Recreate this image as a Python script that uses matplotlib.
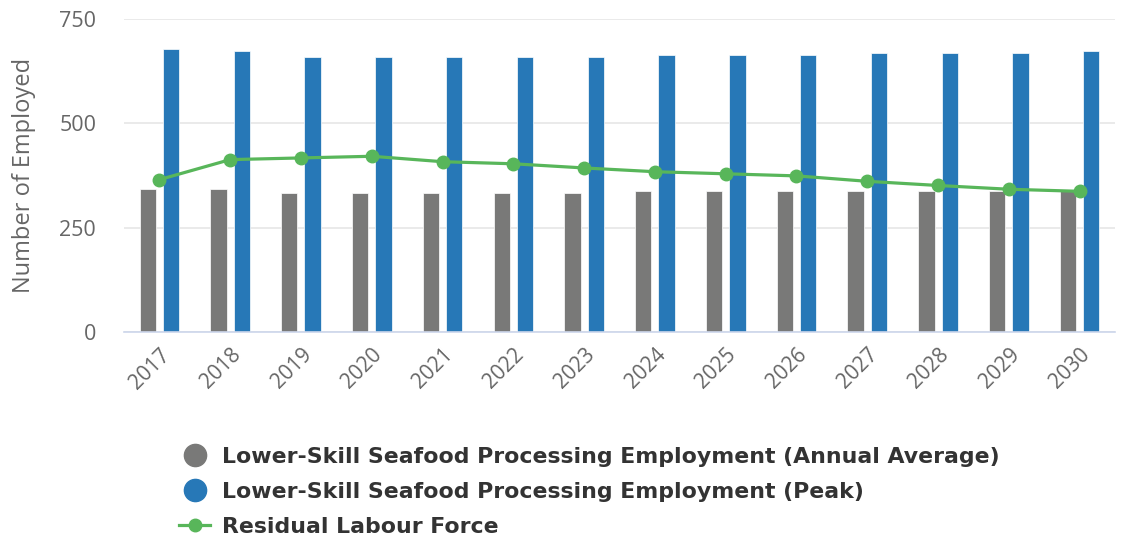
import matplotlib.pyplot as plt
import numpy as np
from matplotlib.lines import Line2D

# ========================================
# Data
# ========================================
years = ['2017', '2018', '2019', '2020', '2021', '2022', '2023',
         '2024', '2025', '2026', '2027', '2028', '2029', '2030']
annual_average = [342, 342, 333, 333, 333, 333, 333,
                  337, 337, 337, 337, 337, 337, 337]
peak = [678, 673, 659, 659, 659, 659, 659,
        664, 664, 664, 668, 668, 668, 673]
residual_labour = [365, 413, 417, 421, 408, 403, 393,
                   384, 379, 374, 361, 351, 342, 337]

GREY = '#797978'
BLUE = '#2778b7'
GREEN = '#58b65a'
TEXT = '#666666'

fig = plt.figure(figsize=(11.22, 5.38), dpi=100)
ax = fig.add_axes([0.1105, 0.383, 0.8833, 0.5817])

x = np.arange(len(years))
bar_w = 0.23
offset = 0.165

ax.bar(x - offset, annual_average, width=bar_w, color=GREY,
       edgecolor='white', linewidth=0.5, zorder=2)
ax.bar(x + offset, peak, width=bar_w, color=BLUE,
       edgecolor='white', linewidth=0.5, zorder=2)
ax.plot(x, residual_labour, color=GREEN, linewidth=2.3, marker='o',
        markersize=9, zorder=3)

# Axes styling
ax.set_xlim(-0.5, len(years) - 0.5)
ax.set_ylim(0, 750)
ax.set_yticks([0, 250, 500, 750])
ax.yaxis.grid(True, color='#e6e6e6', linewidth=1.2, zorder=0)
ax.set_axisbelow(True)
for side in ['top', 'right', 'left']:
    ax.spines[side].set_visible(False)
ax.spines['bottom'].set_color('#ccd6eb')
ax.spines['bottom'].set_linewidth(1.2)
ax.tick_params(axis='both', length=0, colors=TEXT)

ax.set_xticks(x)
ax.set_xticklabels(years, rotation=45, ha='right', rotation_mode='anchor',
                   fontsize=15, family='Open Sans', color=TEXT)
ax.tick_params(axis='x', pad=9)
for lbl in ax.get_yticklabels():
    lbl.set_fontsize(15.5)
    lbl.set_family('Open Sans')
    lbl.set_color(TEXT)
ax.tick_params(axis='y', pad=20)
ax.set_ylabel('Number of Employed', fontsize=17, family='Open Sans',
              color=TEXT, labelpad=16.5)

# Legend below the chart
handles = [
    Line2D([], [], linestyle='none', marker='o', markersize=16,
           color=GREY),
    Line2D([], [], linestyle='none', marker='o', markersize=16,
           color=BLUE),
    Line2D([], [], color=GREEN, linewidth=2.3, marker='o', markersize=9),
]
labels = [
    'Lower-Skill Seafood Processing Employment (Annual Average)',
    'Lower-Skill Seafood Processing Employment (Peak)',
    'Residual Labour Force',
]
fig.legend(handles, labels, loc='upper left', bbox_to_anchor=(0.150, 0.19),
           frameon=False, handlelength=1.4, handletextpad=0.55,
           labelspacing=0.68, borderpad=0,
           prop={'family': 'DejaVu Sans', 'weight': 'bold', 'size': 15.8},
           labelcolor='#333333')

plt.savefig('out.png', dpi=100)
